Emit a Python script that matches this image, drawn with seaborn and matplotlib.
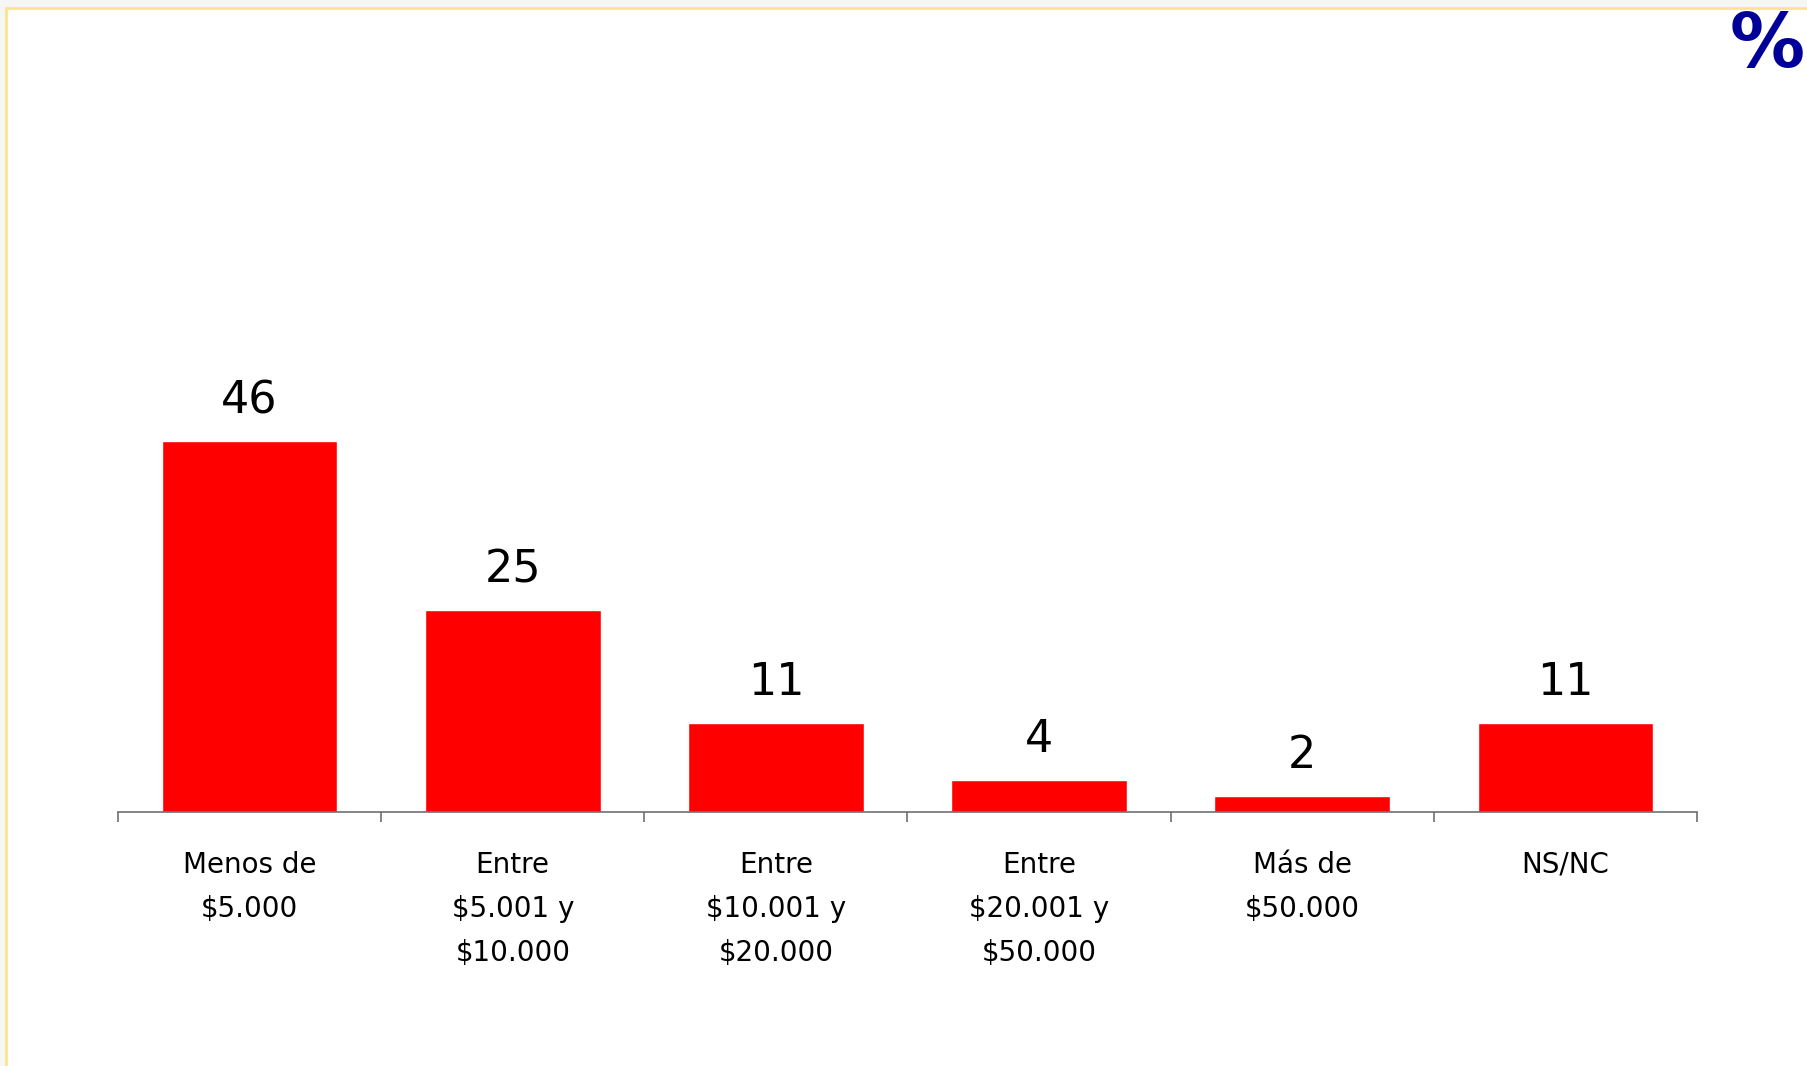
import numpy as np
import pandas as pd
import matplotlib
matplotlib.use("Agg")
import matplotlib.pyplot as plt
from matplotlib.patches import Rectangle
import seaborn as sns

# Data
categories = ["Menos de\n$5.000", "Entre\n$5.001 y\n$10.000", "Entre\n$10.001 y\n$20.000",
              "Entre\n$20.001 y\n$50.000", "Más de\n$50.000", "NS/NC"]
values = [46, 25, 11, 4, 2, 11]

sns.set_style("white")
plt.rcParams['font.family'] = ['DejaVu Sans']

W, H = 1807, 1066
fig = plt.figure(figsize=(W / 100, H / 100), dpi=100, facecolor='#F6F6F6')

# slide panel with pale yellow frame (behind the axes)
fig.patches.append(Rectangle((6 / W, -0.01), 1.0, (H - 8) / H + 0.01, transform=fig.transFigure,
                             facecolor='white', edgecolor='#FCE48C', lw=2, zorder=-10))

ax = fig.add_axes([118 / W, (H - 812) / H, (1697 - 118) / W, 807 / H])
ax.patch.set_alpha(0)

df = pd.DataFrame({'cat': categories, 'val': values})
sns.barplot(data=df, x='cat', y='val', color='#FF0000', saturation=1, width=0.667, ax=ax)

ax.set_xlim(-0.5, len(categories) - 0.5)
ax.set_ylim(0, 100)

for i, v in enumerate(values):
    ax.annotate(str(v), (i, v), xytext=(0, 20), textcoords='offset points',
                ha='center', va='baseline', fontsize=32, color='black')

for s in ['top', 'right', 'left']:
    ax.spines[s].set_visible(False)
ax.spines['bottom'].set_color('#707070')
ax.spines['bottom'].set_linewidth(1.2)

ax.set_yticks([])
ax.set_xlabel('')
ax.set_ylabel('')
ax.set_xticks(range(len(categories)))
ax.set_xticklabels(categories, fontsize=20, linespacing=1.72, color='black')
ax.tick_params(axis='x', which='major', bottom=True, length=0, pad=28)
ax.set_xticks(np.arange(-0.5, len(categories)), minor=True)
ax.tick_params(axis='x', which='minor', bottom=True, length=7.5, width=1.2,
               color='#707070', direction='out')

fig.text(1805 / W, (H - 10) / H, '%', ha='right', va='top', fontsize=54,
         fontweight='bold', color='#000099')

fig.savefig('out.png', dpi=100, facecolor=fig.get_facecolor())
